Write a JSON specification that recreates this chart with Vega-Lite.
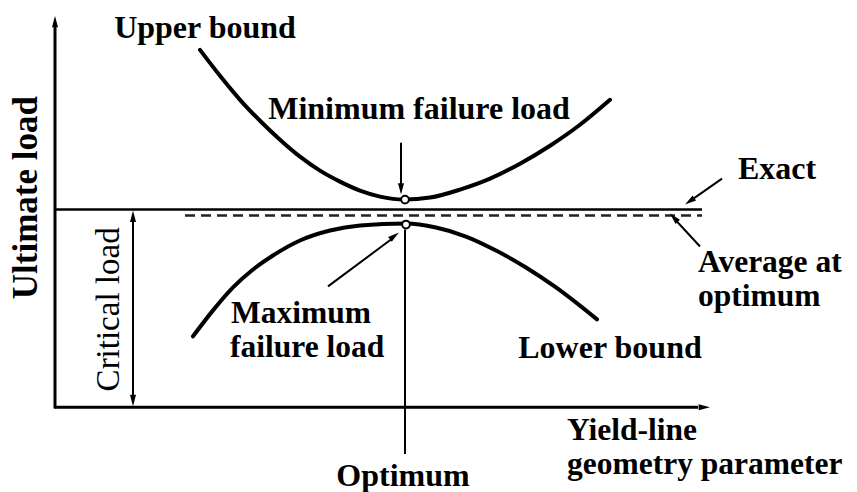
{
  "$schema": "https://vega.github.io/schema/vega-lite/v6.json",
  "width": 857,
  "height": 492,
  "autosize": {"type": "fit", "contains": "padding"},
  "padding": 0,
  "background": "white",
  "view": {"stroke": null},
  "config": {"text": {"font": "Liberation Serif, Times New Roman, DejaVu Serif, serif"}},
  "datasets": {
    "curves": [
      {"series": "upper", "x": 200, "y": 50},
      {"series": "upper", "x": 220, "y": 76},
      {"series": "upper", "x": 240, "y": 100},
      {"series": "upper", "x": 260, "y": 121},
      {"series": "upper", "x": 280, "y": 140},
      {"series": "upper", "x": 300, "y": 157},
      {"series": "upper", "x": 320, "y": 171},
      {"series": "upper", "x": 340, "y": 182},
      {"series": "upper", "x": 360, "y": 191},
      {"series": "upper", "x": 380, "y": 197},
      {"series": "upper", "x": 404, "y": 200},
      {"series": "upper", "x": 430, "y": 198},
      {"series": "upper", "x": 460, "y": 190},
      {"series": "upper", "x": 490, "y": 179},
      {"series": "upper", "x": 520, "y": 164},
      {"series": "upper", "x": 550, "y": 146},
      {"series": "upper", "x": 580, "y": 125},
      {"series": "upper", "x": 610, "y": 100},
      {"series": "lower", "x": 193, "y": 337},
      {"series": "lower", "x": 213, "y": 311},
      {"series": "lower", "x": 233, "y": 288},
      {"series": "lower", "x": 253, "y": 270},
      {"series": "lower", "x": 273, "y": 256},
      {"series": "lower", "x": 300, "y": 241},
      {"series": "lower", "x": 330, "y": 231},
      {"series": "lower", "x": 360, "y": 226},
      {"series": "lower", "x": 406, "y": 224},
      {"series": "lower", "x": 436, "y": 228},
      {"series": "lower", "x": 466, "y": 237},
      {"series": "lower", "x": 496, "y": 251},
      {"series": "lower", "x": 526, "y": 268},
      {"series": "lower", "x": 556, "y": 288},
      {"series": "lower", "x": 597, "y": 320}
    ],
    "axes": [
      {"name": "y axis", "x": 55, "y": 26, "x2": 55, "y2": 409},
      {"name": "x axis", "x": 54, "y": 408, "x2": 698, "y2": 408}
    ],
    "exact": [
      {"name": "Exact", "x": 55, "y": 210, "x2": 702, "y2": 210}
    ],
    "average": [
      {"name": "Average at optimum", "x": 185, "y": 216, "x2": 702, "y2": 216}
    ],
    "thin": [
      {"name": "critical load", "x": 133, "y": 218, "x2": 133, "y2": 400},
      {"name": "optimum", "x": 405, "y": 230, "x2": 405, "y2": 455},
      {"name": "min arrow", "x": 401, "y": 143, "x2": 401, "y2": 186},
      {"name": "max arrow", "x": 328, "y": 287, "x2": 391, "y2": 240},
      {"name": "exact arrow", "x": 722, "y": 179, "x2": 692, "y2": 200},
      {"name": "average arrow", "x": 700, "y": 247, "x2": 676, "y2": 221}
    ],
    "heads": [
      {"name": "y axis", "x": 55, "y": 16, "angle": 0},
      {"name": "x axis", "x": 710, "y": 408, "angle": 90},
      {"name": "critical top", "x": 133, "y": 211, "angle": 0},
      {"name": "critical bottom", "x": 133, "y": 407, "angle": 180},
      {"name": "min arrow", "x": 401, "y": 195, "angle": 180},
      {"name": "max arrow", "x": 399, "y": 233, "angle": 53},
      {"name": "exact arrow", "x": 685, "y": 205, "angle": 235},
      {"name": "average arrow", "x": 670, "y": 214, "angle": 317}
    ],
    "points": [
      {"name": "Minimum failure load", "x": 405, "y": 200},
      {"name": "Maximum failure load", "x": 406, "y": 225}
    ],
    "labels": [
      {"text": "Upper bound", "x": 205, "y": 28, "anchor": "center"},
      {"text": "Minimum failure load", "x": 419, "y": 109, "anchor": "center"},
      {"text": "Exact", "x": 777, "y": 169, "anchor": "center"},
      {"text": "Average at", "x": 698, "y": 264, "anchor": "left"},
      {"text": "optimum", "x": 698, "y": 298, "anchor": "left"},
      {"text": "Maximum", "x": 231, "y": 315, "anchor": "left"},
      {"text": "failure load", "x": 230, "y": 349, "anchor": "left"},
      {"text": "Lower bound", "x": 610, "y": 349, "anchor": "center"},
      {"text": "Optimum", "x": 403, "y": 477, "anchor": "center"},
      {"text": "Yield-line", "x": 567, "y": 432, "anchor": "left"},
      {"text": "geometry parameter", "x": 567, "y": 466, "anchor": "left"}
    ],
    "vlabels": [
      {"text": "Ultimate load", "x": 26, "y": 198, "weight": "bold"},
      {"text": "Critical load", "x": 109, "y": 310, "weight": "normal"}
    ]
  },
  "encoding": {
    "x": {"field": "x", "type": "quantitative", "scale": {"domain": [0, 857], "nice": false, "zero": false}, "axis": null},
    "y": {"field": "y", "type": "quantitative", "scale": {"domain": [0, 492], "nice": false, "zero": false, "reverse": true}, "axis": null}
  },
  "layer": [
    {
      "data": {"name": "curves"},
      "mark": {"type": "line", "color": "black", "strokeWidth": 4, "interpolate": "monotone", "strokeCap": "round"},
      "encoding": {"detail": {"field": "series"}}
    },
    {
      "data": {"name": "axes"},
      "mark": {"type": "rule", "color": "black", "strokeWidth": 3},
      "encoding": {"x2": {"field": "x2"}, "y2": {"field": "y2"}}
    },
    {
      "data": {"name": "exact"},
      "mark": {"type": "rule", "color": "black", "strokeWidth": 2.5},
      "encoding": {"x2": {"field": "x2"}, "y2": {"field": "y2"}}
    },
    {
      "data": {"name": "average"},
      "mark": {"type": "rule", "color": "#222", "strokeWidth": 2.5, "strokeDash": [10, 6]},
      "encoding": {"x2": {"field": "x2"}, "y2": {"field": "y2"}}
    },
    {
      "data": {"name": "thin"},
      "mark": {"type": "rule", "color": "black", "strokeWidth": 2},
      "encoding": {"x2": {"field": "x2"}, "y2": {"field": "y2"}}
    },
    {
      "data": {"name": "heads"},
      "mark": {"type": "point", "shape": "M0,0L0.5,1.9L-0.5,1.9Z", "filled": true, "color": "black", "size": 144, "opacity": 1},
      "encoding": {"angle": {"field": "angle", "type": "quantitative", "scale": null}}
    },
    {
      "data": {"name": "points"},
      "mark": {"type": "point", "shape": "circle", "filled": true, "fill": "white", "stroke": "black", "strokeWidth": 2, "size": 60, "opacity": 1}
    },
    {
      "data": {"name": "labels"},
      "transform": [{"filter": "datum.anchor === 'center'"}],
      "mark": {"type": "text", "font": "Liberation Serif, Times New Roman, DejaVu Serif, serif", "fontWeight": "bold", "fontSize": 32, "align": "center", "baseline": "middle", "color": "black"},
      "encoding": {"text": {"field": "text"}}
    },
    {
      "data": {"name": "labels"},
      "transform": [{"filter": "datum.anchor === 'left'"}],
      "mark": {"type": "text", "font": "Liberation Serif, Times New Roman, DejaVu Serif, serif", "fontWeight": "bold", "fontSize": 31.5, "align": "left", "baseline": "middle", "color": "black"},
      "encoding": {"text": {"field": "text"}}
    },
    {
      "data": {"name": "vlabels"},
      "transform": [{"filter": "datum.weight === 'bold'"}],
      "mark": {"type": "text", "font": "Liberation Serif, Times New Roman, DejaVu Serif, serif", "fontWeight": "bold", "fontSize": 35, "angle": 270, "align": "center", "baseline": "middle", "color": "black"},
      "encoding": {"text": {"field": "text"}}
    },
    {
      "data": {"name": "vlabels"},
      "transform": [{"filter": "datum.weight === 'normal'"}],
      "mark": {"type": "text", "font": "Liberation Serif, Times New Roman, DejaVu Serif, serif", "fontWeight": "normal", "fontSize": 33, "angle": 270, "align": "center", "baseline": "middle", "color": "black"},
      "encoding": {"text": {"field": "text"}}
    }
  ]
}
